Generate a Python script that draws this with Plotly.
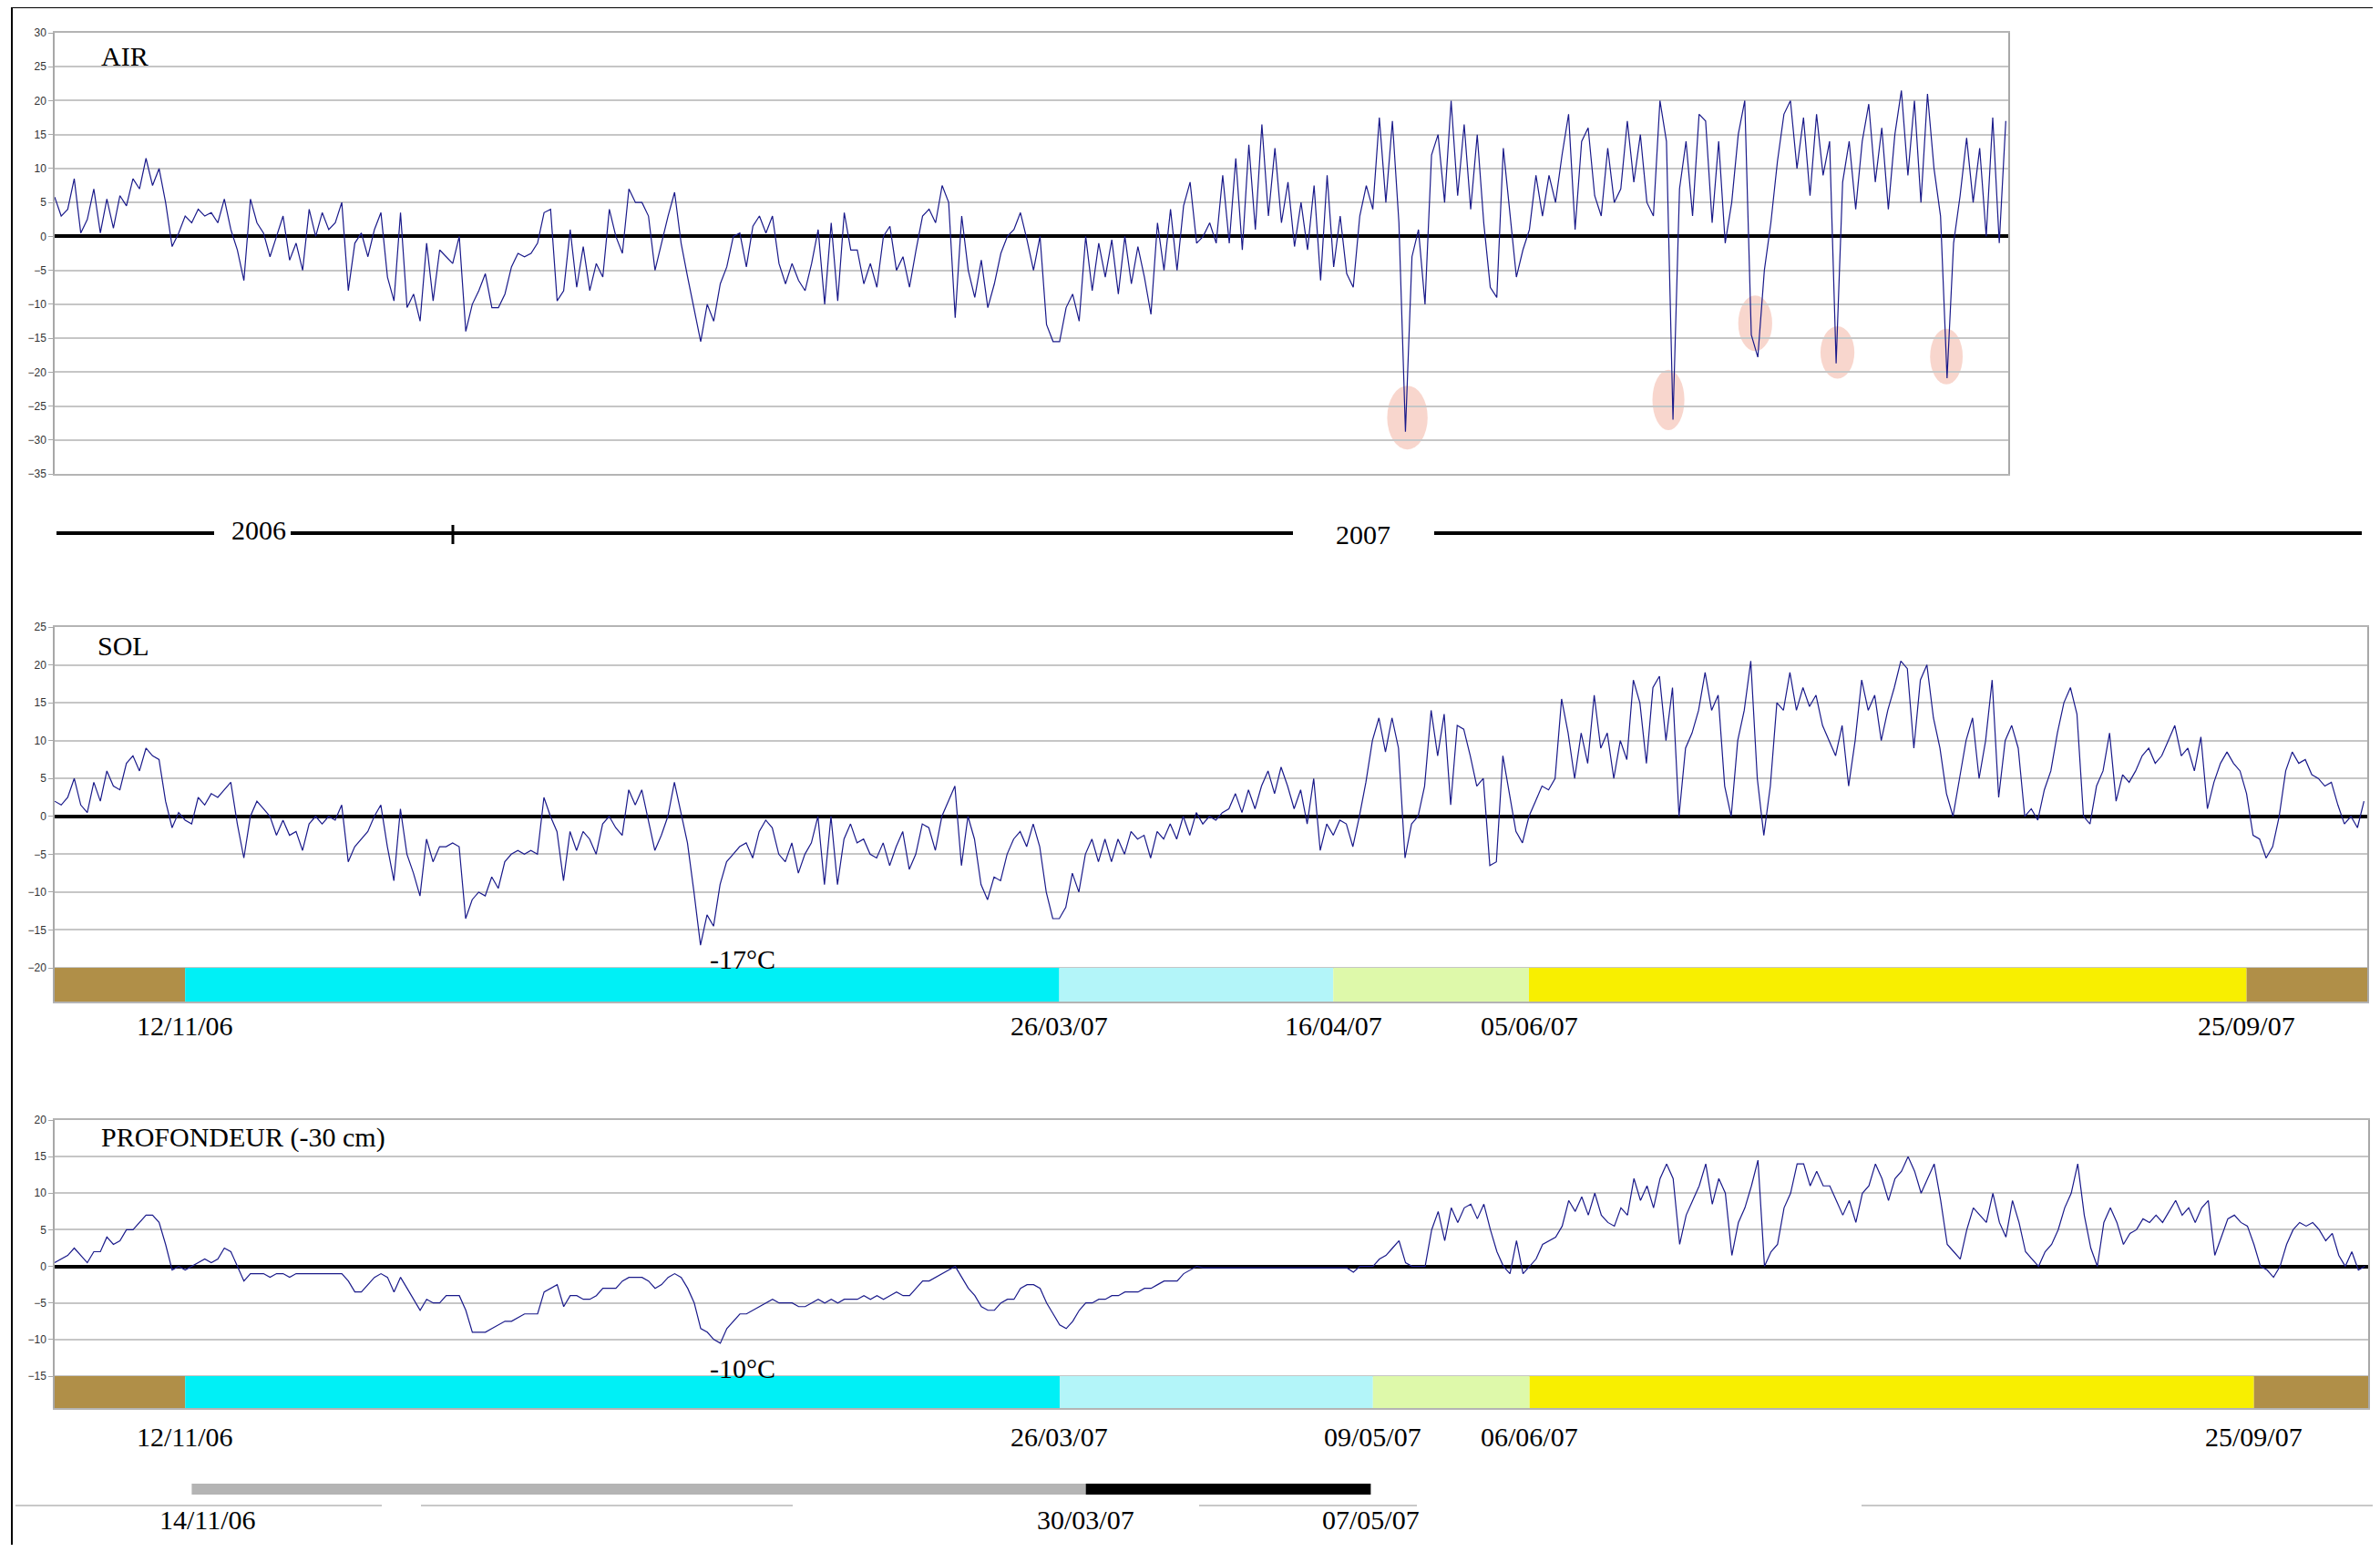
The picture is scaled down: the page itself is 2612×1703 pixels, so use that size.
import pandas as pd
import plotly.graph_objects as go

# Températures (°C), une valeur par jour à partir du 23/10/2006
debut = "2006-10-23"

air = [
    5.8, 3, 4, 8.5, 0.5, 2.5, 7, 0.5, 5.5, 1.2,
    6, 4.5, 8.5, 7, 11.5, 7.5, 10, 5, -1.5, 0.5,
    3, 2, 4, 3, 3.5, 2, 5.5, 1, -2, -6.5,
    5.5, 2, 0.5, -3, 0, 3, -3.5, -1, -5, 4,
    0, 3.5, 1, 2, 5, -8, -1, 0.5, -3, 1,
    3.5, -6, -9.5, 3.5, -10.5, -8.5, -12.5, -1, -9.5, -2,
    -3, -4, 0, -14, -10, -8, -5.5, -10.5, -10.5, -8.5,
    -4.5, -2.5, -3, -2.5, -1, 3.5, 4, -9.5, -8, 1,
    -7.5, -1.5, -8, -4, -6, 4, 0, -2.5, 7, 5,
    5, 3, -5, -1, 3, 6.5, -1, -6, -11, -15.5,
    -10, -12.5, -7, -4.5, 0, 0.5, -4.5, 1.5, 3, 0.5,
    3, -4, -7, -4, -6.5, -8, -4, 1, -10, 2,
    -9.5, 3.5, -2, -2, -7, -4, -7.5, 0, 1.5, -5,
    -3, -7.5, -2, 3, 4, 2, 7.5, 5, -12, 3,
    -5, -9, -3.5, -10.5, -7, -2.5, 0, 1, 3.5, -0.5,
    -5, 0, -13, -15.5, -15.5, -10.5, -8.5, -12.5, 0, -8,
    -1, -6, -0.5, -8.5, 0, -7, -1.5, -6, -11.5, 2,
    -5, 4, -5, 4.5, 8, -1, 0, 2, -1, 9,
    -1, 11.5, -2, 13.5, 1, 16.5, 3, 13, 2, 8,
    -1.5, 5, -2, 7.5, -6.5, 9, -4.5, 3, -5.5, -7.5,
    3, 7.5, 4, 17.5, 5, 17, 2, -28.8, -3, 1,
    -10, 12, 15, 5, 20, 6, 16.5, 4, 15, 2,
    -7.5, -9, 13, 3, -6, -2, 1, 9, 3, 9,
    5, 12, 18, 1, 14, 16, 6, 3, 13, 5,
    7, 17, 8, 15, 5, 3, 20, 14, -27, 7,
    14, 3, 18, 17, 2, 14, -1, 5, 15, 20,
    -14.5, -17.8, -5, 2, 11, 18, 20, 10, 17.5, 6,
    18, 9, 14, -18.7, 8, 14, 4, 14, 19.5, 8,
    16, 4, 15, 21.5, 9, 20, 5, 21, 10, 3,
    -20.9, -1, 6, 14.5, 5, 13, 0, 17.5, -1, 17,
]

sol = [
    2, 1.5, 2.5, 5, 1.5, 0.5, 4.5, 2, 6, 4,
    3.5, 7, 8, 6, 9, 8, 7.5, 2, -1.5, 0.5,
    -0.5, -1, 2.5, 1.5, 3, 2.5, 3.5, 4.5, -1, -5.5,
    0, 2, 1, 0, -2.5, -0.5, -2.5, -2, -4.5, -1,
    0, -1, 0, -0.5, 1.5, -6, -4, -3, -2, 0,
    1.5, -4, -8.5, 1, -5, -7.5, -10.5, -3, -6, -4,
    -4, -3.5, -4, -13.5, -11, -10, -10.5, -8, -9.5, -6,
    -5, -4.5, -5, -4.5, -5, 2.5, 0, -2, -8.5, -2,
    -4.5, -2, -3, -5, -1, 0, -1.5, -2.5, 3.5, 1.5,
    3.5, -0.5, -4.5, -2.5, 0, 4.5, 0.5, -3.5, -10, -17,
    -13, -14.5, -9, -6, -5, -4, -3.5, -5.5, -2, -0.5,
    -1.5, -5, -6, -3.5, -7.5, -5, -3.5, 0, -9, 0,
    -9, -3, -1, -3.5, -3, -5, -5.5, -3.5, -6.5, -4,
    -2, -7, -5, -1, -1.5, -4.5, 0, 2, 4, -6.5,
    0, -3, -9, -11, -8, -8.5, -5, -3, -2, -4,
    -1, -4, -10, -13.5, -13.5, -12, -7.5, -10, -5, -3,
    -6, -3, -6, -3, -5, -2, -3, -2.5, -5.5, -2,
    -3, -1, -3, 0, -2.5, 0.5, -1, 0, -0.5, 0.5,
    1, 3, 0.5, 3.5, 1, 4, 6, 3, 6.5, 4,
    1, 3.5, -1, 5, -4.5, -1, -2.5, -0.5, -1, -4,
    0, 4.5, 10, 13, 8.5, 13, 9, -5.5, -1, 0,
    4, 14, 8, 13.5, 1.5, 12, 11.5, 8, 4, 5,
    -6.5, -6, 8, 3, -2, -3.5, 0, 2, 4, 3.5,
    5, 15.5, 11, 5, 11, 7, 16, 9, 11, 5,
    10, 7.5, 18, 15, 7, 17, 18.5, 10, 17, 0,
    9, 11, 14, 19, 14, 16, 4, 0, 10, 14,
    20.5, 5, -2.5, 4, 15, 14, 19, 14, 17, 14.5,
    16, 12, 10, 8, 12, 4, 10, 18, 14, 16,
    10, 14, 17, 20.5, 19.5, 9, 18, 20, 13, 9,
    3, 0, 5, 10, 13, 5, 10, 18, 2.5, 10,
    12, 9, 0, 1, -0.5, 3.5, 6, 11, 15, 17,
    13.5, 0, -1, 4, 6, 11, 2, 5.5, 4.5, 6,
    8, 9, 7, 8, 10, 12, 8, 9, 6, 10.5,
    1, 4.5, 7, 8.5, 7, 6, 3, -2.5, -3, -5.5,
    -4, 0, 6, 8.5, 7, 7.5, 5.5, 5, 4, 4.5,
    1.5, -1, 0, -1.5, 2,
]

profondeur = [
    0.5, 1, 1.5, 2.5, 1.5, 0.5, 2, 2, 4, 3,
    3.5, 5, 5, 6, 7, 7, 6, 3, -0.5, 0,
    -0.5, 0, 0.5, 1, 0.5, 1, 2.5, 2, 0, -2,
    -1, -1, -1, -1.5, -1, -1, -1.5, -1, -1, -1,
    -1, -1, -1, -1, -1, -2, -3.5, -3.5, -2.5, -1.5,
    -1, -1.5, -3.5, -1.5, -3, -4.5, -6, -4.5, -5, -5,
    -4, -4, -4, -6, -9, -9, -9, -8.5, -8, -7.5,
    -7.5, -7, -6.5, -6.5, -6.5, -3.5, -3, -2.5, -5.5, -4,
    -4, -4.5, -4.5, -4, -3, -3, -3, -2, -1.5, -1.5,
    -1.5, -2, -3, -2.5, -1.5, -1, -1.5, -3, -5, -8.5,
    -9, -10, -10.5, -8.5, -7.5, -6.5, -6.5, -6, -5.5, -5,
    -4.5, -5, -5, -5, -5.5, -5.5, -5, -4.5, -5, -4.5,
    -5, -4.5, -4.5, -4.5, -4, -4.5, -4, -4.5, -4, -3.5,
    -4, -4, -3, -2, -2, -1.5, -1, -0.5, 0, -1.5,
    -3, -4, -5.5, -6, -6, -5, -4.5, -4.5, -3, -2.5,
    -2.5, -3, -5, -6.5, -8, -8.5, -7.5, -6, -5, -5,
    -4.5, -4.5, -4, -4, -3.5, -3.5, -3.5, -3, -3, -2.5,
    -2, -2, -2, -1, -0.5, 0, -0.2, -0.2, -0.2, -0.2,
    -0.2, -0.2, -0.2, -0.2, -0.2, -0.2, -0.2, -0.2, -0.2, -0.2,
    -0.2, -0.2, -0.2, -0.2, -0.2, -0.2, -0.2, -0.2, -0.2, -0.8,
    0, 0, 0, 1, 1.5, 2.5, 3.5, 0.5, 0, 0,
    0, 5, 7.5, 3.5, 8, 6, 8, 8.5, 6.5, 8.5,
    5, 2, 0, -1, 3.5, -1, 0, 1, 3, 3.5,
    4, 5.5, 9, 7.5, 9.5, 7, 10, 7, 6, 5.5,
    8, 7, 12, 9, 11, 8, 12, 14, 12, 3,
    7, 9, 11, 14, 8.5, 12, 10, 1.5, 6, 8,
    11, 14.5, 0, 2, 3, 8, 10, 14, 14, 11,
    13, 11, 11, 9, 7, 9, 6, 10, 11, 14,
    12, 9, 12, 13, 15, 13, 10, 12, 14, 9,
    3, 2, 1, 5, 8, 7, 6, 10, 6, 4,
    9, 6, 2, 1, 0, 2, 3, 5, 8, 10,
    14, 7, 2.5, 0, 6, 8, 6, 3, 4.5, 5,
    6.5, 6, 7, 6, 7.5, 9, 7, 8, 6, 8,
    9, 1.5, 4, 6.5, 7, 6, 5.5, 3, 0, -0.5,
    -1.5, 0, 3, 5, 6, 5.5, 6, 5, 3.5, 4.5,
    1.5, 0, 2, -0.5, 0,
]

# Périodes (bandes de couleur) : limites en dates
periodes_sol = ["2006-10-23", "2006-11-12", "2007-03-26", "2007-05-07",
                "2007-06-06", "2007-09-24", "2007-10-12 12:00"]
periodes_prof = ["2006-10-23", "2006-11-12", "2007-03-26", "2007-05-13",
                 "2007-06-06", "2007-09-25", "2007-10-12 12:00"]
couleurs_periodes = ["#b08f48", "#00f0f6", "#b3f5f9", "#def9aa", "#f8ef00", "#b08f48"]
etiquettes_sol = ["12/11/06", "26/03/07", "16/04/07", "05/06/07", "25/09/07"]
etiquettes_prof = ["12/11/06", "26/03/07", "09/05/07", "06/06/07", "25/09/07"]

# Pics suspects de la série AIR (jours depuis le début, valeur centrale)
pics_jours = [207.3, 247.3, 260.6, 273.2, 289.9]
pics_valeurs = [-26.7, -24.1, -12.8, -17.1, -17.7]

# Frise du bas
frise_dates = ["2006-11-13", "2007-03-30", "2007-05-12 16:00"]
frise_etiquettes = ["14/11/06", "30/03/07", "07/05/07"]
frise_couleurs = ["#b4b4b4", "#000000"]

# la page html ajoute une marge de 8 px autour de la figure
M = 8
W, H = 2612 - 2 * M, 1703 - 2 * M
def px(x):
    return (x - M) / W
def py(y):
    return min(1, 1 - (y - M) / H)

serif = "Liberation Serif"
bleu = "#1a1a8a"
t0 = pd.Timestamp(debut)

jours_air = pd.date_range(debut, periods=len(air), freq="D")
jours_sol = pd.date_range(debut, periods=len(sol), freq="D")
jours_prof = pd.date_range(debut, periods=len(profondeur), freq="D")

fig = go.Figure()
fig.add_trace(go.Scatter(x=jours_air, y=air, mode="lines", line=dict(color=bleu, width=1.2),
                         xaxis="x", yaxis="y"))
fig.add_trace(go.Scatter(x=jours_sol, y=sol, mode="lines", line=dict(color=bleu, width=1.2),
                         xaxis="x2", yaxis="y2"))
fig.add_trace(go.Scatter(x=jours_prof, y=profondeur, mode="lines", line=dict(color=bleu, width=1.2),
                         xaxis="x3", yaxis="y3"))


def axe_x(domaine, fin, ancre):
    return dict(domain=domaine, range=[debut, fin], anchor=ancre, type="date", automargin=False,
                showgrid=False, showticklabels=False, zeroline=False, ticks="",
                showline=True, linecolor="#b4b4b4", linewidth=1.5, mirror=True)


def axe_y(domaine, plage, ticks, ancre):
    return dict(domain=domaine, range=plage, tickvals=ticks, anchor=ancre, automargin=False,
                showgrid=True, gridcolor="#c6c6c6", gridwidth=1.5,
                zeroline=True, zerolinecolor="black", zerolinewidth=4,
                showline=True, linecolor="#a8a8a8", linewidth=1.5, mirror=True,
                ticks="outside", ticklen=5, tickcolor="#a8a8a8",
                tickfont=dict(family="Liberation Sans", size=12, color="#333333"))


bas_sol = -24.45
bas_prof = -19.36

fig.update_layout(
    width=W, height=H, margin=dict(l=0, r=0, t=0, b=0, pad=0, autoexpand=False),
    paper_bgcolor="white", plot_bgcolor="white", showlegend=False,
    xaxis=axe_x([px(60), px(2204)], "2007-08-18 09:00", "y"),
    yaxis=axe_y([py(520), py(36)], [-35, 30], list(range(-35, 31, 5)), "x"),
    xaxis2=axe_x([px(60), px(2598)], "2007-10-12 12:00", "y2"),
    yaxis2=axe_y([py(1099), py(688)], [bas_sol, 25], list(range(-20, 26, 5)), "x2"),
    xaxis3=axe_x([px(60), px(2599)], "2007-10-12 12:00", "y3"),
    yaxis3=axe_y([py(1545), py(1229)], [bas_prof, 20], list(range(-15, 21, 5)), "x3"),
)

shapes = []
# bandes de périodes
for i, c in enumerate(couleurs_periodes):
    shapes.append(dict(type="rect", xref="x2", yref="y2", x0=periodes_sol[i], x1=periodes_sol[i + 1],
                       y0=bas_sol, y1=-20, fillcolor=c, line=dict(width=0), layer="above"))
    shapes.append(dict(type="rect", xref="x3", yref="y3", x0=periodes_prof[i], x1=periodes_prof[i + 1],
                       y0=bas_prof, y1=-15, fillcolor=c, line=dict(width=0), layer="above"))

# ellipses autour des pics
demi_l = [3.1, 2.45, 2.6, 2.6, 2.5]
demi_h = [4.7, 4.45, 4.1, 3.85, 4.1]
for j, v, dl, dh in zip(pics_jours, pics_valeurs, demi_l, demi_h):
    shapes.append(dict(type="circle", xref="x", yref="y",
                       x0=t0 + pd.Timedelta(days=j - dl), x1=t0 + pd.Timedelta(days=j + dl),
                       y0=v - dh, y1=v + dh, fillcolor="rgba(240,165,145,0.45)",
                       line=dict(width=0), layer="below"))

# frise grise / noire
for i, c in enumerate(frise_couleurs):
    shapes.append(dict(type="rect", xref="x3", yref="paper", x0=frise_dates[i], x1=frise_dates[i + 1],
                       y0=py(1640), y1=py(1628), fillcolor=c, line=dict(width=0)))

# cadre
shapes.append(dict(type="line", xref="paper", yref="paper", x0=px(13), x1=px(13), y0=py(8), y1=0,
                   line=dict(color="black", width=2)))
shapes.append(dict(type="line", xref="paper", yref="paper", x0=px(13), x1=1, y0=py(8), y1=py(8),
                   line=dict(color="black", width=2)))

# ligne des années
for a, b in [(62, 235), (319, 1419), (1574, 2592)]:
    shapes.append(dict(type="line", xref="paper", yref="paper", x0=px(a), x1=px(b),
                       y0=py(585), y1=py(585), line=dict(color="black", width=4)))
shapes.append(dict(type="line", xref="paper", yref="paper", x0=px(497), x1=px(497),
                   y0=py(576), y1=py(597), line=dict(color="black", width=3)))

# traits gris pâles en bas
for a, b in [(17, 419), (462, 870), (1316, 1555), (2043, 2612)]:
    shapes.append(dict(type="line", xref="paper", yref="paper", x0=px(a), x1=px(b),
                       y0=py(1652), y1=py(1652), line=dict(color="#c8c8c8", width=2)))

fig.update_layout(shapes=shapes)

police = dict(family=serif, size=30, color="black")
annotations = [
    dict(text="AIR", x=px(109), y=py(61), xanchor="left"),
    dict(text="SOL", x=px(105), y=py(708), xanchor="left"),
    dict(text="PROFONDEUR (-30 cm)", x=px(109), y=py(1248), xanchor="left"),
    dict(text="2006", x=px(284), y=py(581), bgcolor="white"),
    dict(text="2007", x=px(1496), y=py(586)),
]
for a in annotations:
    a.update(xref="paper", yref="paper")

annotations += [
    dict(text="-17°C", x="2007-02-05 10:00", y=-18.8, xref="x2", yref="y2"),
    dict(text="-10°C", x="2007-02-05 10:00", y=-13.9, xref="x3", yref="y3"),
]
for d, t in zip(periodes_sol[1:-1], etiquettes_sol):
    annotations.append(dict(text=t, x=d, y=py(1125), xref="x2", yref="paper"))
for d, t in zip(periodes_prof[1:-1], etiquettes_prof):
    annotations.append(dict(text=t, x=d, y=py(1576), xref="x3", yref="paper"))
decalages = [18, 0, 0]
for d, t, s in zip(frise_dates, frise_etiquettes, decalages):
    annotations.append(dict(text=t, x=d, y=py(1667), xref="x3", yref="paper", xshift=s))

for a in annotations:
    a.setdefault("xanchor", "center")
    a.update(yanchor="middle", showarrow=False, font=police)

fig.update_layout(annotations=annotations)

fig.write_html("out.html")
